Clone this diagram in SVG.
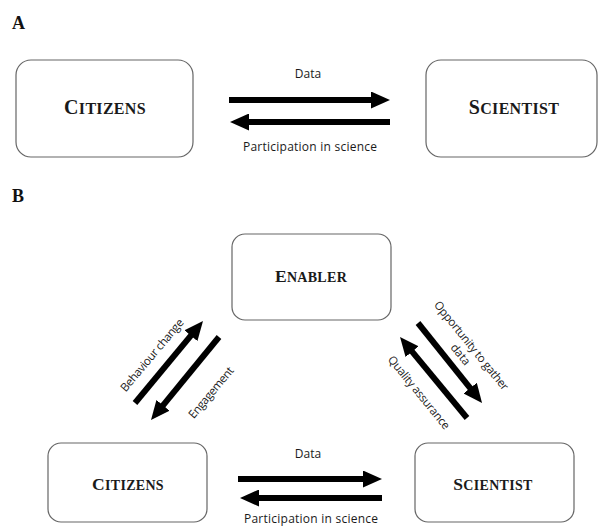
<svg xmlns="http://www.w3.org/2000/svg" width="598" height="526" viewBox="0 0 598 526">
  <defs>
    <marker id="head" markerUnits="userSpaceOnUse" markerWidth="19" markerHeight="17" refX="1" refY="8.5" orient="auto">
      <path d="M0,0 L19,8.5 L0,17 Z" fill="#000"/>
    </marker>
    <style>
      .panel { font-family: "Liberation Serif", "Times New Roman", serif; font-weight: bold; font-size: 18px; fill: #111; }
      .box { fill: #fff; stroke: #666; stroke-width: 1.2; }
      .name { font-family: "Liberation Serif", "Times New Roman", serif; font-weight: bold; fill: #1a1a1a; text-anchor: middle; letter-spacing: 0.3px; }
      .lbl { font-family: "Open Sans", "Liberation Sans", Arial, sans-serif; font-size: 12px; fill: #1a1a1a; text-anchor: middle; }
      .dlbl { font-family: "Open Sans", "Liberation Sans", Arial, sans-serif; font-size: 11.5px; fill: #1a1a1a; text-anchor: middle; }
      .arrow { stroke: #000; stroke-width: 6; fill: none; marker-end: url(#head); }
    </style>
  </defs>

  <rect width="598" height="526" fill="#fff"/>

  <!-- panel letters -->
  <text class="panel" x="12" y="29">A</text>
  <text class="panel" x="12" y="202">B</text>

  <!-- Panel A nodes -->
  <g id="a-citizens">
    <rect class="box" x="16" y="60" width="177" height="97" rx="15"/>
    <text class="name" x="105" y="114" font-size="16"><tspan font-size="20">C</tspan>ITIZENS</text>
  </g>
  <g id="a-scientist">
    <rect class="box" x="426" y="60" width="171" height="97" rx="15"/>
    <text class="name" x="514" y="114" font-size="16"><tspan font-size="20">S</tspan>CIENTIST</text>
  </g>

  <!-- Panel B nodes -->
  <g id="b-enabler">
    <rect class="box" x="232" y="234" width="159" height="86" rx="13"/>
    <text class="name" x="311" y="282" font-size="14"><tspan font-size="17.5">E</tspan>NABLER</text>
  </g>
  <g id="b-citizens">
    <rect class="box" x="48" y="443" width="159" height="79" rx="13"/>
    <text class="name" x="128" y="490" font-size="14"><tspan font-size="17.5">C</tspan>ITIZENS</text>
  </g>
  <g id="b-scientist">
    <rect class="box" x="415" y="443" width="159" height="79" rx="13"/>
    <text class="name" x="493" y="490" font-size="14"><tspan font-size="17.5">S</tspan>CIENTIST</text>
  </g>

  <!-- connectors -->
  <g id="connectors">
    <!-- Panel A -->
    <line class="arrow" x1="229" y1="100" x2="372" y2="100"/>
    <line class="arrow" x1="390" y1="122" x2="248" y2="122"/>
    <!-- Panel B horizontal -->
    <line class="arrow" x1="238" y1="479" x2="364" y2="479"/>
    <line class="arrow" x1="382" y1="498" x2="258" y2="498"/>
    <!-- Panel B citizens / enabler -->
    <line class="arrow" x1="135" y1="403" x2="191.5" y2="334.9"/>
    <line class="arrow" x1="219" y1="337" x2="162.4" y2="406.1"/>
    <!-- Panel B enabler / scientist -->
    <line class="arrow" x1="418" y1="323" x2="470.8" y2="388.9"/>
    <line class="arrow" x1="467" y1="418" x2="411.5" y2="350.9"/>
  </g>

  <!-- connector labels -->
  <g id="labels">
    <text class="lbl" x="308" y="78">Data</text>
    <text class="lbl" x="310" y="151" textLength="134">Participation in science</text>
    <text class="lbl" x="308" y="458">Data</text>
    <text class="lbl" x="311" y="523" textLength="134">Participation in science</text>

    <text class="dlbl" transform="translate(152,355) rotate(-50)" x="0" y="4" textLength="91">Behaviour change</text>
    <text class="dlbl" transform="translate(211,392.5) rotate(-50)" x="0" y="4" textLength="63">Engagement</text>
    <g transform="translate(466,350) rotate(51)">
      <text class="dlbl" x="0" y="-3" textLength="111">Opportunity to gather</text>
      <text class="dlbl" x="0" y="11">data</text>
    </g>
    <text class="dlbl" transform="translate(419,392.5) rotate(51)" x="0" y="4" textLength="91">Quality assurance</text>
  </g>
</svg>
